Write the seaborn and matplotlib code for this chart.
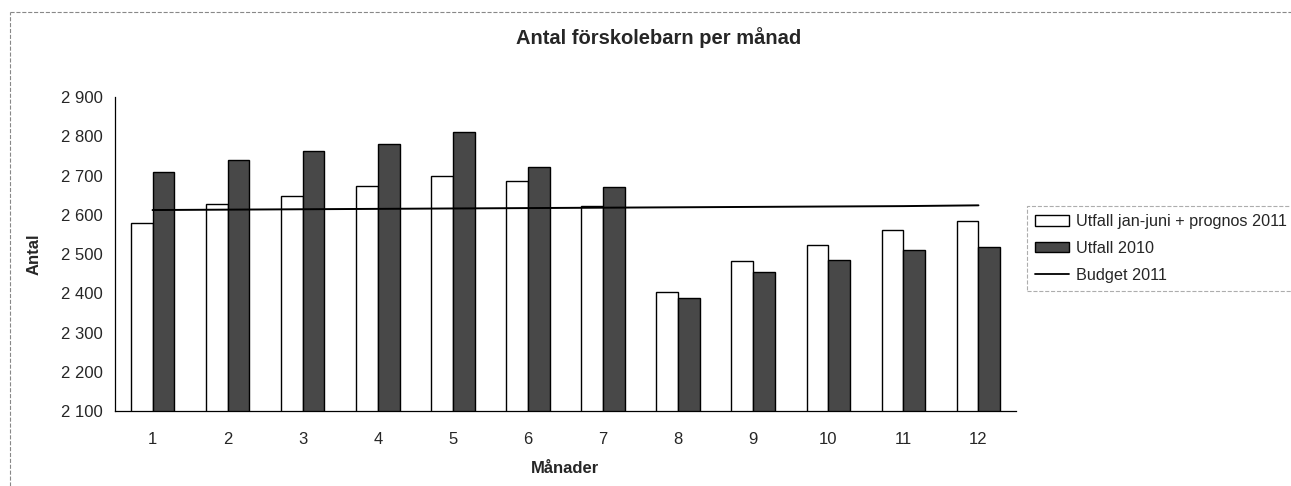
import pandas as pd
import numpy as np
import matplotlib.pyplot as plt
import matplotlib.ticker as mticker
import seaborn as sns
from matplotlib.patches import Patch
from matplotlib.lines import Line2D

# values
months = ["1", "2", "3", "4", "5", "6", "7", "8", "9", "10", "11", "12"]
utfall_2011 = [2580, 2628, 2647, 2672, 2700, 2685, 2623, 2404, 2483, 2524, 2560, 2583]
utfall_2010 = [2709, 2740, 2762, 2779, 2812, 2722, 2670, 2389, 2454, 2484, 2509, 2517]
budget_2011 = [2612, 2613, 2614, 2615, 2616, 2617, 2618, 2619, 2620, 2621, 2622, 2624]
series_names = ["Utfall jan-juni + prognos 2011", "Utfall 2010"]
yticks = [2100, 2200, 2300, 2400, 2500, 2600, 2700, 2800, 2900]

df = pd.DataFrame({
    "Månad": months * 2,
    "Antal": utfall_2011 + utfall_2010,
    "Serie": [series_names[0]] * 12 + [series_names[1]] * 12,
})

sns.set_style("white")
plt.rcParams["font.family"] = ["Liberation Sans", "DejaVu Sans"]

fig = plt.figure(figsize=(12.91, 4.86), dpi=100)
ax = fig.add_axes([115 / 1291, 1 - 411 / 486, 901 / 1291, 314 / 486])

dark = "#484848"
sns.barplot(data=df, x="Månad", y="Antal", hue="Serie", order=months,
            palette=["white", dark], edgecolor="black", linewidth=1.0,
            width=0.58, gap=0, ax=ax, legend=False)

x = np.arange(len(months))
ax.plot(x, budget_2011, color="black", linewidth=1.4, label="Budget 2011")

ax.set_ylim(2100, 2900)
ax.set_xlim(-0.5, 11.5)
ax.set_yticks(yticks)
ax.yaxis.set_major_formatter(mticker.FuncFormatter(lambda v, p: f"{int(v):,}".replace(",", " ")))
ax.tick_params(axis="y", direction="out", length=5, width=0.8, labelsize=12, pad=4)
ax.tick_params(axis="x", length=0, labelsize=12, pad=15)
ax.set_xticks(np.arange(-0.5, 12, 1), minor=True)
ax.tick_params(axis="x", which="minor", direction="inout", length=9, width=0.8)

for s in ["top", "right"]:
    ax.spines[s].set_visible(False)
for s in ["left", "bottom"]:
    ax.spines[s].set_color("black")
    ax.spines[s].set_linewidth(0.9)

ax.set_ylabel("Antal", fontsize=12, fontweight="bold", labelpad=14)
ax.set_xlabel("Månader", fontsize=12, fontweight="bold", labelpad=10)
fig.text(659 / 1291, 1 - 38 / 486, "Antal förskolebarn per månad",
         ha="center", va="center", fontsize=14.5, fontweight="bold")

# legend
handles = [Patch(facecolor="white", edgecolor="black", label=series_names[0]),
           Patch(facecolor=dark, edgecolor="black", label=series_names[1]),
           Line2D([0], [0], color="black", linewidth=1.3, label="Budget 2011")]
leg = fig.legend(handles=handles, loc="upper left",
                 bbox_to_anchor=(1027 / 1291, 1 - 206 / 486), fontsize=11.7,
                 frameon=True, fancybox=False, handlelength=2.1, handleheight=0.6,
                 handletextpad=0.4, borderpad=0.5, labelspacing=0.72, borderaxespad=0)
leg.get_frame().set_edgecolor("#999999")
leg.get_frame().set_linestyle("--")
leg.get_frame().set_linewidth(0.8)

# outer chart frame (scanned border)
fig.add_artist(plt.Line2D([10 / 1291, 10 / 1291], [0, 1 - 12 / 486],
                          color="#888888", linewidth=0.8, linestyle="--"))
fig.add_artist(plt.Line2D([10 / 1291, 1], [1 - 12 / 486, 1 - 12 / 486],
                          color="#888888", linewidth=0.8, linestyle="--"))

fig.savefig("out.png", dpi=100)
